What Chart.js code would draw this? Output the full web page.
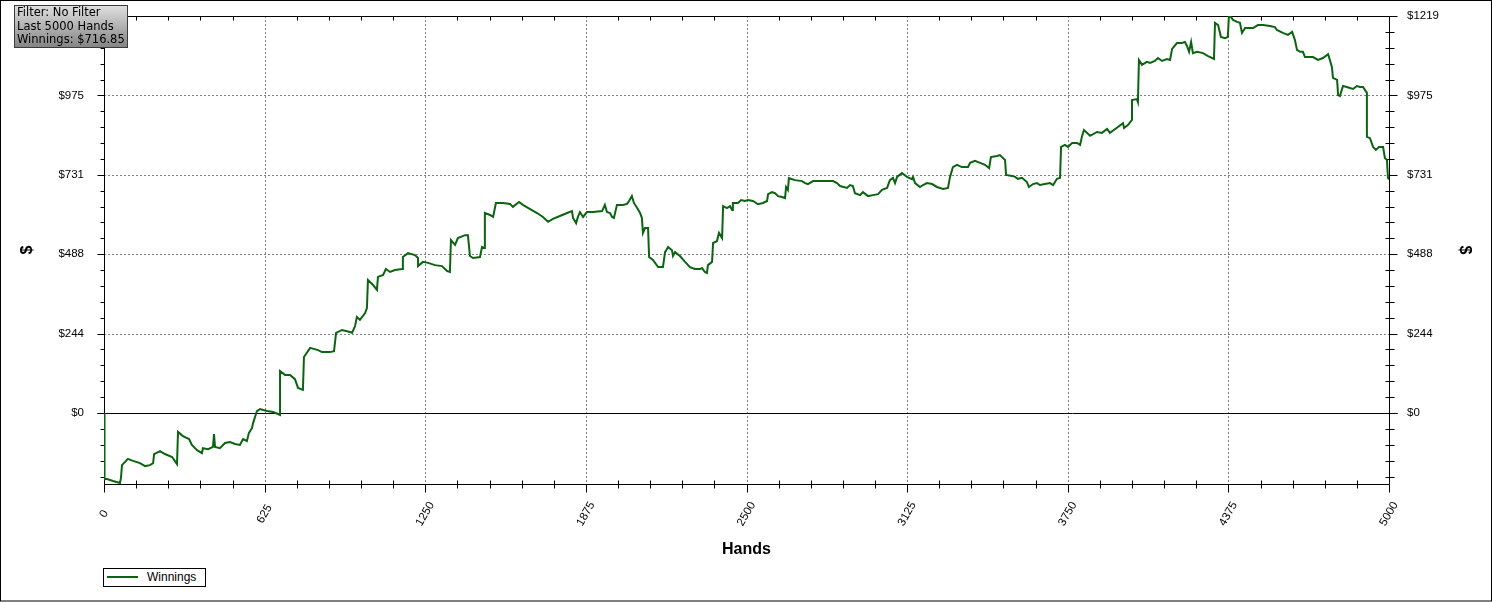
<!DOCTYPE html>
<html>
<head>
<meta charset="utf-8">
<script src="https://cdn.jsdelivr.net/npm/chart.js@4/dist/chart.umd.min.js"></script>
<style>
body { margin: 0; background: #fff; }
#wrap { position: relative; width: 1493px; height: 602px; }
#info {
    position: absolute; left: 14px; top: 5px; width: 114px; height: 43px;
    box-sizing: border-box; border: 1px solid #3c3c3c;
    background: linear-gradient(#dedede, #858585);
    font: 11.5px "DejaVu Sans", sans-serif; line-height: 13.5px;
    padding: 0 0 0 2px; color: #000; white-space: nowrap;
}
#legend {
    position: absolute; left: 103px; top: 568px; width: 103px; height: 19px;
    box-sizing: border-box; border: 1px solid #000; background: #fff;
    font: 12px "Liberation Sans", Arial, sans-serif; line-height: 17px; color: #000;
}
#legend .swatch { position: absolute; left: 3px; top: 7px; width: 31px; height: 2px; background: #0b6410; }
#legend .txt { position: absolute; left: 43px; top: 0; }
</style>
</head>
<body>
<div id="wrap">
    <canvas id="chart"></canvas>
    <div id="info">Filter: No Filter<br>Last 5000 Hands<br>Winnings: $716.85</div>
    <div id="legend"><span class="swatch"></span><span class="txt">Winnings</span></div>
</div>
<script>
// values (hand number, cumulative $)
var hands = [0, 2, 12, 35, 62, 66, 70, 93, 113, 140, 160, 179, 191, 195, 218, 237, 265, 284, 288, 307,
    331, 342, 362, 381, 385, 405, 424, 428, 432, 451, 471, 490, 510, 529, 541, 556, 564, 576, 580, 595,
    607, 634, 658, 677, 685, 685, 704, 724, 743, 755, 774, 778, 802, 833, 848, 879, 895, 903, 926, 957,
    965, 977, 984, 996, 1016, 1023, 1027, 1047, 1062, 1066, 1086, 1097, 1113, 1132, 1160, 1163, 1183, 1210, 1222, 1222,
    1241, 1261, 1288, 1315, 1335, 1346, 1350, 1366, 1377, 1405, 1416, 1424, 1436, 1463, 1471, 1479, 1482, 1502, 1514, 1525,
    1553, 1580, 1591, 1615, 1630, 1658, 1685, 1708, 1728, 1747, 1774, 1802, 1821, 1825, 1837, 1844, 1852, 1864, 1879, 1903,
    1938, 1949, 1957, 1969, 1977, 1984, 1996, 2019, 2035, 2043, 2054, 2062, 2074, 2086, 2093, 2097, 2105, 2117, 2121, 2136,
    2156, 2175, 2183, 2195, 2210, 2214, 2222, 2241, 2261, 2280, 2299, 2319, 2327, 2338, 2346, 2350, 2366, 2370, 2385, 2393,
    2405, 2409, 2424, 2436, 2444, 2447, 2467, 2479, 2494, 2506, 2525, 2545, 2564, 2580, 2584, 2599, 2611, 2623, 2638, 2650,
    2654, 2661, 2665, 2689, 2716, 2728, 2739, 2759, 2786, 2813, 2837, 2852, 2864, 2891, 2903, 2914, 2922, 2942, 2953, 2973,
    2992, 3012, 3027, 3047, 3058, 3070, 3078, 3086, 3105, 3124, 3144, 3148, 3156, 3175, 3187, 3202, 3222, 3241, 3265, 3284,
    3292, 3303, 3319, 3338, 3362, 3370, 3389, 3409, 3428, 3444, 3451, 3475, 3486, 3506, 3510, 3533, 3545, 3556, 3572, 3591,
    3599, 3615, 3630, 3642, 3661, 3681, 3693, 3708, 3720, 3724, 3739, 3751, 3767, 3786, 3798, 3805, 3813, 3837, 3864, 3883,
    3903, 3914, 3940, 3965, 3969, 3984, 4000, 4000, 4019, 4023, 4027, 4039, 4058, 4070, 4089, 4101, 4117, 4136, 4148, 4156,
    4175, 4194, 4206, 4214, 4222, 4230, 4237, 4253, 4276, 4296, 4319, 4323, 4335, 4346, 4362, 4373, 4377, 4385, 4393, 4409,
    4420, 4428, 4440, 4451, 4471, 4490, 4510, 4537, 4556, 4564, 4587, 4607, 4623, 4634, 4642, 4654, 4665, 4673, 4685, 4704,
    4724, 4743, 4763, 4770, 4778, 4782, 4798, 4802, 4809, 4821, 4836, 4848, 4860, 4875, 4887, 4899, 4914, 4914, 4926, 4938,
    4949, 4961, 4977, 4984, 4992, 4996, 5000];
var winnings = [0, -203, -203, -209, -215, -200, -160, -141, -147, -154, -163, -160, -154, -126, -117, -126, -135, -157, -58, -71,
    -80, -98, -114, -123, -108, -111, -104, -65, -104, -108, -92, -89, -95, -98, -80, -86, -61, -46, -31, 6,
    12, 6, 3, -3, -6, 129, 117, 117, 104, 77, 71, 172, 200, 193, 187, 187, 190, 246, 255, 249,
    246, 267, 295, 286, 307, 322, 408, 393, 378, 418, 424, 442, 433, 439, 442, 479, 491, 485, 476, 451,
    464, 461, 454, 451, 436, 433, 531, 516, 537, 546, 546, 482, 476, 479, 510, 507, 614, 608, 602, 645,
    645, 642, 633, 648, 639, 626, 614, 602, 587, 596, 605, 614, 620, 599, 583, 602, 617, 602, 617, 617,
    620, 639, 617, 614, 602, 599, 639, 639, 642, 651, 666, 645, 630, 614, 599, 553, 568, 568, 479, 470,
    448, 448, 494, 510, 500, 482, 494, 482, 464, 448, 442, 442, 445, 433, 430, 454, 464, 522, 528, 553,
    537, 635, 629, 635, 623, 645, 645, 654, 651, 654, 651, 641, 645, 651, 672, 678, 675, 666, 663, 660,
    694, 685, 721, 715, 712, 706, 703, 712, 712, 712, 712, 706, 697, 691, 700, 697, 675, 669, 678, 666,
    669, 672, 685, 691, 715, 722, 706, 725, 737, 725, 718, 725, 706, 694, 700, 706, 703, 694, 688, 691,
    725, 755, 762, 755, 755, 768, 774, 768, 762, 752, 786, 789, 792, 777, 731, 728, 725, 719, 722, 709,
    694, 703, 706, 700, 703, 706, 700, 719, 722, 817, 823, 817, 829, 829, 823, 848, 869, 851, 863, 860,
    872, 860, 875, 890, 875, 884, 900, 961, 964, 955, 1084, 1069, 1078, 1075, 1081, 1090, 1081, 1087, 1084, 1118,
    1136, 1136, 1139, 1127, 1109, 1139, 1105, 1109, 1105, 1096, 1087, 1198, 1191, 1155, 1151, 1155, 1219, 1216, 1207, 1201,
    1198, 1167, 1182, 1182, 1182, 1191, 1191, 1188, 1185, 1176, 1167, 1161, 1170, 1145, 1115, 1109, 1109, 1093, 1093, 1093,
    1084, 1090, 1102, 1084, 1062, 1029, 1023, 976, 973, 1004, 1001, 998, 995, 1004, 1001, 1001, 983, 848, 844, 817,
    808, 817, 817, 783, 777, 722, 716.85];

var xTicks = [0, 625, 1250, 1875, 2500, 3125, 3750, 4375, 5000];
var yTicks = [0, 243.8, 487.6, 731.4, 975.2, 1219];
var yLabels = ["$0", "$244", "$488", "$731", "$975", "$1219"];
var yMin = -218, yMax = 1219;

var tickFont = { family: "Liberation Sans", size: 11.5 };

// axis frame, dotted grid, minor/major ticks and rotated x labels
var framePlugin = {
    id: "frame",
    beforeDatasetsDraw: function(chart) {
        var ctx = chart.ctx, a = chart.chartArea;
        var xs = chart.scales.x, ys = chart.scales.y;
        var L = Math.round(a.left) + 0.5, R = Math.round(a.right) + 0.5;
        var T = Math.round(a.top) + 0.5, B = Math.round(a.bottom) + 0.5;
        ctx.save();
        ctx.strokeStyle = "#000";
        ctx.lineWidth = 1;
        ctx.setLineDash([1, 3]);
        ctx.beginPath();
        for (var i = 1; i < xTicks.length - 1; i++) {
            var px = Math.round(xs.getPixelForValue(xTicks[i])) + 0.5;
            ctx.moveTo(px, T); ctx.lineTo(px, B);
        }
        for (var j = 1; j < yTicks.length - 1; j++) {
            var py = Math.round(ys.getPixelForValue(yTicks[j])) + 0.5;
            ctx.moveTo(L, py); ctx.lineTo(R, py);
        }
        ctx.stroke();
        ctx.setLineDash([]);
        ctx.beginPath();
        // frame
        ctx.moveTo(L, T); ctx.lineTo(R, T);
        ctx.moveTo(L, B); ctx.lineTo(R, B);
        ctx.moveTo(L, T); ctx.lineTo(L, B);
        ctx.moveTo(R, T); ctx.lineTo(R, B);
        // zero line
        var z = Math.round(ys.getPixelForValue(0)) + 0.5;
        ctx.moveTo(L - 7, z); ctx.lineTo(R + 8, z);
        // y ticks
        var step = yTicks[1] / 5;
        for (var k = -5; k <= 25; k++) {
            var v = k * step;
            if (v < yMin || v > yMax + 0.01) continue;
            var y = Math.round(ys.getPixelForValue(v)) + 0.5;
            if (k % 5 === 0) {
                ctx.moveTo(L - 7, y); ctx.lineTo(L, y);
                ctx.moveTo(R, y); ctx.lineTo(R + 8, y);
            } else {
                ctx.moveTo(L - 4, y); ctx.lineTo(L, y);
                ctx.moveTo(R - 4, y); ctx.lineTo(R + 5, y);
            }
        }
        // x ticks
        for (var h = 0; h <= 5000; h += 125) {
            var x = Math.round(xs.getPixelForValue(h)) + 0.5;
            if (h % 625 === 0) {
                ctx.moveTo(x, B); ctx.lineTo(x, B + 8);
            } else {
                ctx.moveTo(x, B - 4); ctx.lineTo(x, B + 4);
                ctx.moveTo(x, T); ctx.lineTo(x, T + 4);
            }
        }
        ctx.stroke();
        ctx.restore();
    },
    afterDraw: function(chart) {
        var ctx = chart.ctx, xs = chart.scales.x;
        ctx.save();
        ctx.fillStyle = "#000";
        ctx.font = tickFont.size + "px " + tickFont.family;
        ctx.textAlign = "center";
        ctx.textBaseline = "middle";
        xTicks.forEach(function(v) {
            ctx.save();
            ctx.translate(xs.getPixelForValue(v), 514);
            ctx.rotate(-Math.PI / 3);
            ctx.fillText(String(v), 0, 0);
            ctx.restore();
        });
        ctx.strokeStyle = "#000";
        ctx.lineWidth = 1;
        ctx.strokeRect(0.5, 0.5, chart.width - 2, chart.height - 1.5);
        ctx.restore();
    }
};

function yAxis(position, gap, titlePad) {
    return {
        type: "linear",
        position: position,
        min: yMin,
        max: yMax,
        afterBuildTicks: function(s) { s.ticks = yTicks.map(function(v) { return { value: v }; }); },
        afterFit: function(s) { s.width = 104; },
        // grid hidden, tickLength only used to push the labels away from the axis
        grid: { display: false, drawTicks: true, tickLength: gap },
        border: { display: false },
        ticks: {
            padding: 0,
            color: "#000",
            font: tickFont,
            autoSkip: false,
            callback: function(v, i) { return yLabels[i]; }
        },
        title: {
            display: true, text: "$", color: "#000",
            font: { family: "Liberation Sans", size: 16, weight: "bold" },
            padding: { top: titlePad, bottom: 0 }
        }
    };
}

new Chart(document.getElementById("chart"), {
    type: "line",
    data: {
        datasets: [{
            label: "Winnings",
            data: hands.map(function(h, i) { return { x: h, y: winnings[i] }; }),
            borderColor: "#0b6410",
            borderWidth: 2,
            pointRadius: 0,
            tension: 0,
            fill: false,
            yAxisID: "y"
        }]
    },
    options: {
        responsive: true,
        maintainAspectRatio: false,
        animation: false,
        layout: { padding: { top: 16, bottom: 43, left: 0, right: 0 } },
        plugins: { legend: { display: false }, tooltip: { enabled: false } },
        scales: {
            x: {
                type: "linear",
                min: 0,
                max: 5000,
                afterBuildTicks: function(s) { s.ticks = xTicks.map(function(v) { return { value: v }; }); },
                afterFit: function(s) { s.height = 75; },
                grid: { display: false, drawTicks: false },
                border: { display: false },
                ticks: { display: false },
                title: {
                    display: true, text: "Hands", color: "#000",
                    font: { family: "Liberation Sans", size: 16, weight: "bold" },
                    padding: 0
                }
            },
            y: yAxis("left", 20, 18),
            y2: yAxis("right", 18, 19)
        }
    },
    plugins: [framePlugin]
});
</script>
</body>
</html>
